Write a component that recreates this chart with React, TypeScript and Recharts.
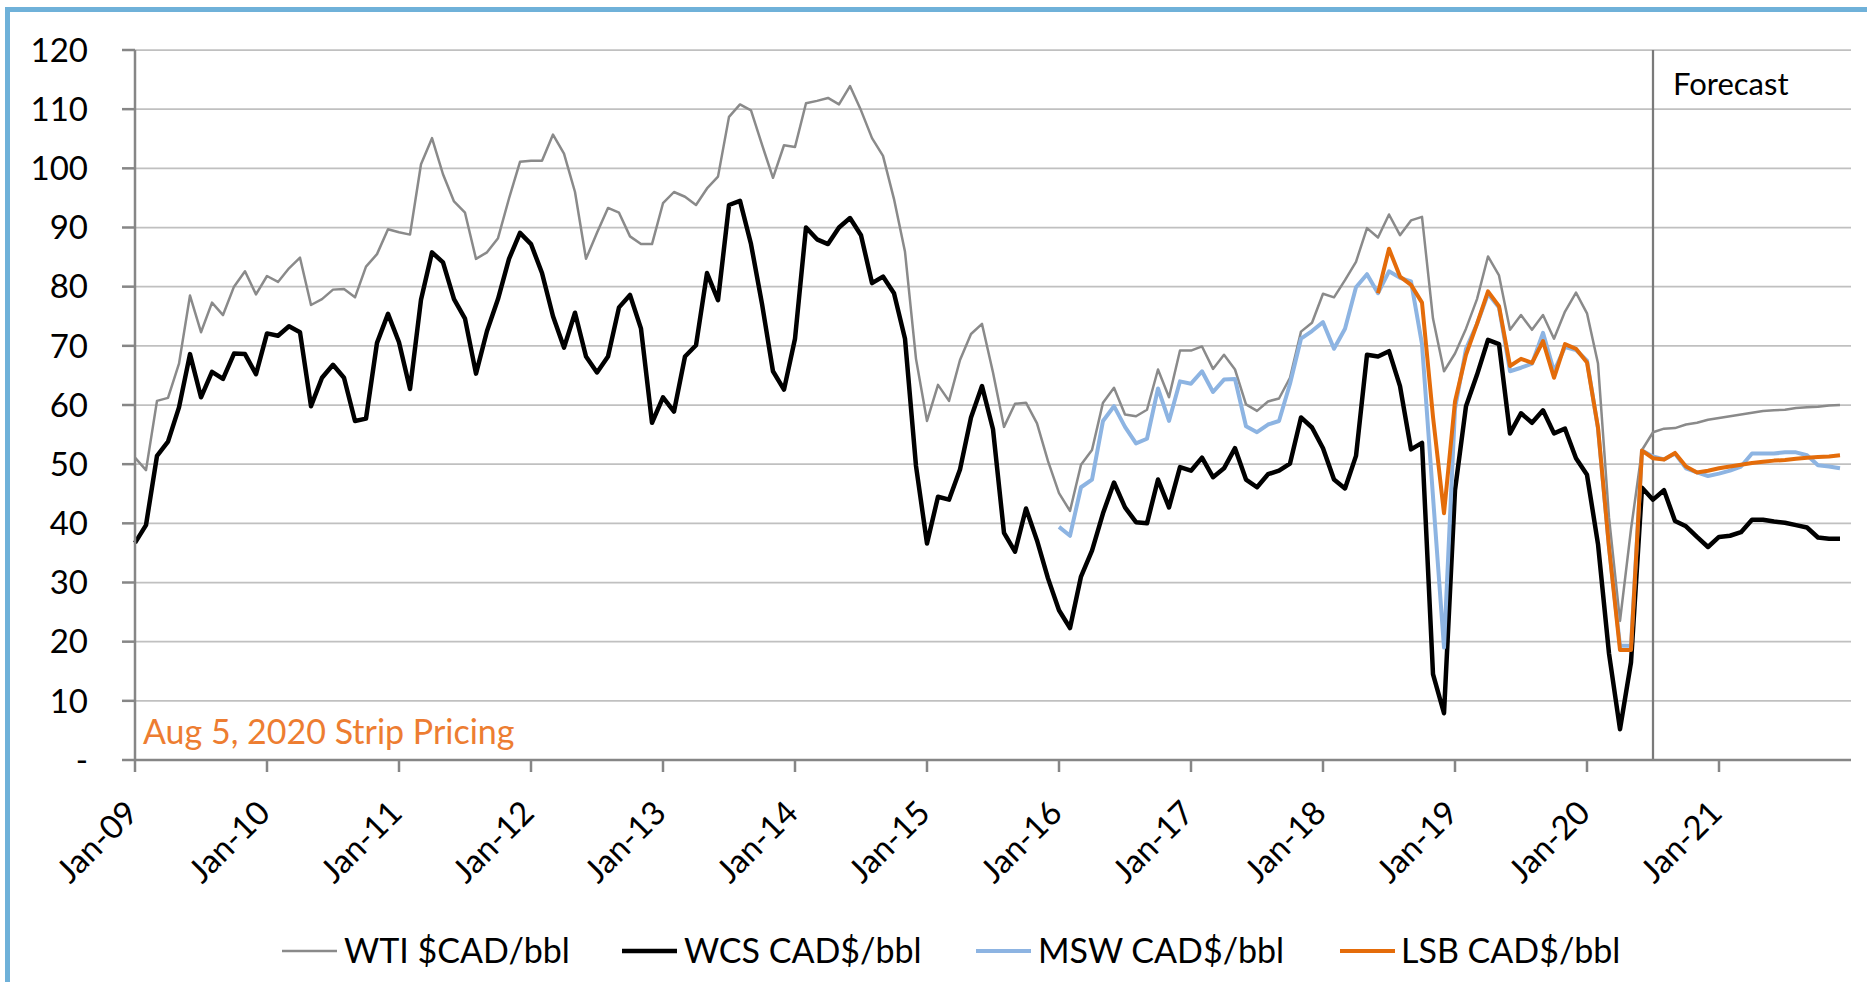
import React from "react";
import { LineChart, Line, XAxis, YAxis, CartesianGrid, ReferenceLine } from "recharts";

const FONT = "Lato, 'Liberation Sans', sans-serif";

// monthly categories Jan-09 .. Dec-21
const monthNames = ["Jan", "Feb", "Mar", "Apr", "May", "Jun", "Jul", "Aug", "Sep", "Oct", "Nov", "Dec"];
const years = ["09", "10", "11", "12", "13", "14", "15", "16", "17", "18", "19", "20", "21"];
const months: string[] = [];
years.forEach((yy) => monthNames.forEach((mm) => months.push(`${mm}-${yy}`)));

const tickLabels = ["Jan-09", "Jan-10", "Jan-11", "Jan-12", "Jan-13", "Jan-14", "Jan-15", "Jan-16", "Jan-17", "Jan-18", "Jan-19", "Jan-20", "Jan-21"];
const yTicks = [0, 10, 20, 30, 40, 50, 60, 70, 80, 90, 100, 110, 120];
const forecastStart = "Jul-20";

const wti = [
  51.1, 49, 60.7, 61.2, 67, 78.5, 72.3, 77.3, 75.2, 80, 82.6, 78.7,
  81.8, 80.8, 83.1, 84.9, 76.9, 77.9, 79.5, 79.6, 78.2, 83.4, 85.5, 89.7,
  89.2, 88.8, 100.7, 105.1, 99, 94.4, 92.5, 84.7, 85.8, 88.2, 94.9, 101.1,
  101.3, 101.3, 105.7, 102.5, 96, 84.7, 89.1, 93.3, 92.5, 88.5, 87.2, 87.2,
  94.1, 96, 95.2, 93.8, 96.6, 98.6, 108.7, 110.8, 109.8, 104, 98.4, 103.9,
  103.6, 111, 111.4, 111.9, 110.8, 113.9, 109.8, 105.1, 102.1, 94.8, 85.9, 67.8,
  57.3, 63.4, 60.7, 67.6, 72, 73.7, 65.5, 56.3, 60.2, 60.4, 56.9, 50.5,
  45.1, 42.1, 49.9, 52.4, 60.4, 62.9, 58.4, 58.1, 59.2, 66, 61.3, 69.2,
  69.2, 69.9, 66.1, 68.5, 66, 60.1, 59, 60.6, 61.1, 64.6, 72.4, 73.9,
  78.8, 78.2, 81.1, 84.2, 89.9, 88.3, 92.2, 88.7, 91.2, 91.8, 74.6, 65.7,
  68.7, 72.9, 77.9, 85.1, 81.9, 72.7, 75.2, 72.7, 75.2, 71.2, 75.8, 79,
  75.5, 67, 41, 23.5, 39, 52.4, 55.4, 56, 56.1, 56.7, 57, 57.5,
  57.8, 58.1, 58.4, 58.7, 59, 59.1, 59.2, 59.5, 59.6, 59.7, 59.9, 60,
];

const wcs = [
  36.7, 39.7, 51.4, 53.8, 59.6, 68.6, 61.3, 65.6, 64.4, 68.7, 68.6, 65.2,
  72.1, 71.7, 73.3, 72.3, 59.8, 64.6, 66.8, 64.6, 57.3, 57.7, 70.5, 75.4,
  70.6, 62.7, 77.8, 85.8, 84.1, 77.9, 74.6, 65.3, 72.5, 77.9, 84.7, 89.1,
  87.2, 82.3, 75, 69.7, 75.6, 68.2, 65.5, 68.2, 76.5, 78.6, 72.9, 57,
  61.3, 58.9, 68.2, 70.1, 82.3, 77.7, 93.8, 94.5, 87.2, 77.1, 65.7, 62.6,
  71.2, 90, 88, 87.2, 90, 91.6, 88.7, 80.6, 81.7, 78.9, 71.2, 49.7,
  36.6, 44.5, 44, 49.1, 57.9, 63.2, 55.9, 38.4, 35.2, 42.5, 37.1, 30.7,
  25.3, 22.3, 31, 35.4, 41.7, 46.9, 42.7, 40.2, 40, 47.4, 42.7, 49.5,
  48.9, 51.1, 47.8, 49.3, 52.7, 47.4, 46.1, 48.3, 48.9, 50.1, 57.9, 56.2,
  52.7, 47.4, 45.9, 51.4, 68.5, 68.2, 69.1, 63.2, 52.5, 53.6, 14.5, 7.9,
  45.6, 59.8, 65.1, 71, 70.3, 55.2, 58.6, 57, 59.1, 55.2, 56, 51,
  48.2, 36.5, 18, 5.2, 16.5, 46, 44, 45.6, 40.4, 39.5, 37.7, 36,
  37.7, 37.9, 38.5, 40.6, 40.6, 40.3, 40.1, 39.7, 39.3, 37.6, 37.4, 37.4,
];

// MSW starts Jan-16
const mswStart = "Jan-16";
const msw = [
  39.4, 37.9, 46.1, 47.4, 57.3, 59.8, 56.3, 53.5, 54.3, 62.8, 57.3, 64,
  63.6, 65.7, 62.2, 64.3, 64.4, 56.4, 55.4, 56.7, 57.3, 63.6, 71.2, 72.5,
  74, 69.5, 72.9, 79.9, 82.1, 78.9, 82.6, 81.5, 80.9, 70.3, 44.5, 19,
  59.4, 69.5, 73.7, 78.8, 76.5, 65.7, 66.3, 67, 72.2, 65.7, 69.8, 69.3,
  67.5, 56, 36, 19.3, 19.3, 52.3, 51.3, 50.8, 51.8, 49.3, 48.6, 48,
  48.4, 48.9, 49.6, 51.8, 51.8, 51.8, 52, 52, 51.5, 49.8, 49.6, 49.3,
];

// LSB starts Jun-18
const lsbStart = "Jun-18";
const lsb = [
  78.9, 86.4, 81.7, 80.3, 77.3, 58, 41.7,
  60.6, 68.5, 73.7, 79.2, 76.7, 66.6, 67.8, 67.1, 70.8, 64.6, 70.3, 69.5,
  67.2, 56.2, 36, 18.6, 18.6, 52.3, 51, 50.8, 51.9, 49.6, 48.6, 48.9,
  49.3, 49.6, 49.9, 50.2, 50.4, 50.6, 50.7, 50.9, 51.1, 51.2, 51.3, 51.5,
];

const mswOffset = months.indexOf(mswStart);
const lsbOffset = months.indexOf(lsbStart);
const data = months.map((label, i) => ({
  m: i,
  label,
  wti: wti[i],
  wcs: wcs[i],
  msw: i >= mswOffset ? msw[i - mswOffset] : null,
  lsb: i >= lsbOffset ? lsb[i - lsbOffset] : null,
}));

const xTicks = tickLabels.map((t) => months.indexOf(t));

const series = [
  { key: "wti", name: "WTI $CAD/bbl", color: "#8a8a8a", width: 2.5 },
  { key: "wcs", name: "WCS CAD$/bbl", color: "#000000", width: 4.5 },
  { key: "msw", name: "MSW CAD$/bbl", color: "#8db4e2", width: 4 },
  { key: "lsb", name: "LSB CAD$/bbl", color: "#e46c0a", width: 4 },
];

const legendPos = [
  { line: 282, text: 344 },
  { line: 622, text: 684 },
  { line: 976, text: 1038 },
  { line: 1340, text: 1401 },
];

function XTick(props: any) {
  const { x, y, payload } = props;
  const ax = x + 5;
  const ay = y + 41;
  return (
    <text
      x={ax}
      y={ay}
      transform={`rotate(-45 ${ax} ${ay})`}
      textAnchor="end"
      fontSize={33}
      fontFamily={FONT}
      fill="#000"
    >
      {months[payload.value]}
    </text>
  );
}

function ForecastLabel(props: any) {
  const { viewBox } = props;
  return (
    <text x={viewBox.x + 20} y={95} fontSize={31} fontFamily={FONT} fill="#000">
      Forecast
    </text>
  );
}

export default function App() {
  return (
    <div
      style={{
        position: "absolute",
        left: 0,
        top: 0,
        width: 1867,
        height: 982,
        overflow: "hidden",
        background: "#fff",
      }}
    >
      <div
        style={{
          position: "absolute",
          left: 5,
          top: 7,
          width: 1900,
          height: 1000,
          borderLeft: "5px solid #6fb1d9",
          borderTop: "5px solid #6fb1d9",
        }}
      />
      <div style={{ position: "absolute", left: 0, top: 0 }}>
        <LineChart width={1867} height={982} data={data} margin={{ top: 50, right: 16, left: 35, bottom: 122 }}>
          <CartesianGrid vertical={false} stroke="#c0c0c0" strokeWidth={1.75} />
          <XAxis
            dataKey="m"
            type="number"
            domain={[0, 156]}
            ticks={xTicks}
            interval={0}
            height={100}
            tickSize={12}
            stroke="#868686"
            strokeWidth={2.5}
            tick={<XTick />}
          />
          <YAxis
            type="number"
            domain={[0, 120]}
            ticks={yTicks}
            interval={0}
            width={100}
            tickSize={13}
            tickMargin={34}
            stroke="#868686"
            strokeWidth={2.5}
            tickFormatter={(v: number) => (v === 0 ? "-" : String(v))}
            tick={{ fill: "#000", fontSize: 33, fontFamily: FONT }}
          />
          <ReferenceLine
            x={months.indexOf(forecastStart)}
            stroke="#7a7a7a"
            strokeWidth={2.25}
            label={<ForecastLabel />}
          />
          {series.map((s) => (
            <Line
              key={s.key}
              dataKey={s.key}
              name={s.name}
              type="linear"
              stroke={s.color}
              strokeWidth={s.width}
              strokeLinejoin="round"
              dot={false}
              activeDot={false}
              isAnimationActive={false}
            />
          ))}
        </LineChart>
      </div>
      <svg width={1867} height={982} style={{ position: "absolute", left: 0, top: 0, pointerEvents: "none" }}>
        <text x={143} y={744} fontSize={34} fontFamily={FONT} fill="#ed7d31">
          Aug 5, 2020 Strip Pricing
        </text>
        {series.map((s, i) => (
          <g key={s.key}>
            <line
              x1={legendPos[i].line}
              x2={legendPos[i].line + 55}
              y1={951}
              y2={951}
              stroke={s.color}
              strokeWidth={s.width}
            />
            <text x={legendPos[i].text} y={963} fontSize={34} fontFamily={FONT} fill="#000">
              {s.name}
            </text>
          </g>
        ))}
      </svg>
    </div>
  );
}
